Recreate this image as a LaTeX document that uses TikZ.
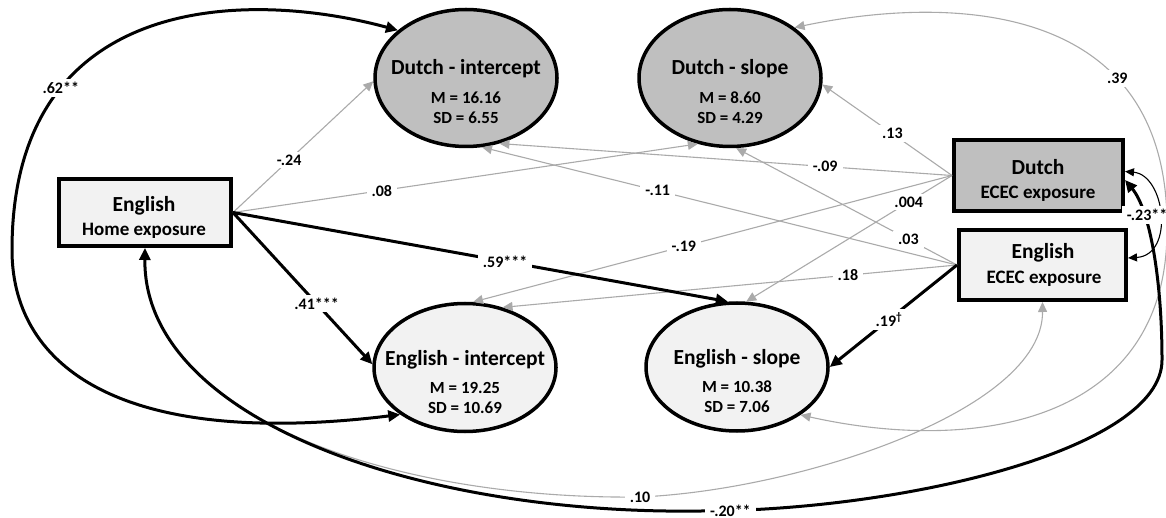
\documentclass[tikz,border=0pt]{standalone}
\usepackage{fontspec}
\setmainfont{Carlito}
\usetikzlibrary{arrows.meta,shapes.geometric}
\definecolor{dutchfill}{RGB}{191,191,191}
\definecolor{engfill}{RGB}{242,242,242}
\definecolor{pathgray}{RGB}{170,170,170}

\begin{document}
\begin{tikzpicture}[x=1pt,y=-1pt,
  latent/.style={ellipse, draw=black, line width=3.5pt, inner sep=0pt,
    minimum width=182pt},
  observed/.style={rectangle, draw=black, line width=4pt, inner sep=0pt},
  ltitle/.style={anchor=base, inner sep=0pt, font=\fontsize{21.5}{24}\selectfont\bfseries},
  lstat/.style={anchor=base, inner sep=0pt, font=\fontsize{17}{20}\selectfont\bfseries},
  bsub/.style={anchor=base, inner sep=0pt, font=\fontsize{19}{22}\selectfont\bfseries},
  elabel/.style={fill=white, inner xsep=5pt, inner ysep=3pt,
    font=\fontsize{16}{18}\selectfont\bfseries},
  sigpath/.style={draw=black, line width=3pt, -{Triangle[length=12pt,width=11pt]}},
  sigcov/.style={draw=black, line width=3pt,
    {Triangle[length=12pt,width=11pt]}-{Triangle[length=12pt,width=11pt]}},
  thincov/.style={draw=black, line width=1.1pt,
    {Triangle[length=9pt,width=8pt]}-{Triangle[length=9pt,width=8pt]}},
  nspath/.style={draw=pathgray, line width=1.1pt,
    -{Triangle[length=10pt,width=9pt]}},
  nscov/.style={draw=pathgray, line width=1.1pt,
    {Triangle[length=10pt,width=9pt]}-{Triangle[length=10pt,width=9pt]}},
]
\useasboundingbox (0,0) rectangle (1166,518);

% latent growth factors
\node[latent, fill=dutchfill, minimum height=137pt] (dint) at (466,78) {};
\node[latent, fill=dutchfill, minimum height=137pt] (dslp) at (730,78) {};
\node[latent, fill=engfill, minimum height=128pt] (eint) at (465,367.5) {};
\node[latent, fill=engfill, minimum height=128pt] (eslp) at (737,367) {};

\node[ltitle] (dint-t) at (466,75) {Dutch - intercept};
\node[lstat]  (dint-m) at (466,104) {M = 16.16};
\node[lstat]  (dint-s) at (466,124) {SD = 6.55};

\node[ltitle] (dslp-t) at (730,75) {Dutch - slope};
\node[lstat]  (dslp-m) at (730,104) {M = 8.60};
\node[lstat]  (dslp-s) at (730,124) {SD = 4.29};

\node[ltitle] (eint-t) at (465,365) {English - intercept};
\node[lstat]  (eint-m) at (465,393) {M = 19.25};
\node[lstat]  (eint-s) at (465,413) {SD = 10.69};

\node[ltitle] (eslp-t) at (737,364) {English - slope};
\node[lstat]  (eslp-m) at (737,392.5) {M = 10.38};
\node[lstat]  (eslp-s) at (737,412.5) {SD = 7.06};

% observed exposure measures
\node[observed, fill=engfill, minimum width=172pt, minimum height=67pt] (ehome) at (145,212.5) {};
\node[ltitle] (ehome-a) at (144,212) {English};
\node[bsub]   (ehome-b) at (144,236) {Home exposure};

\node[observed, fill=dutchfill, minimum width=169pt, minimum height=71pt] (decec) at (1038.5,175.5) {};
\node[ltitle] (decec-a) at (1038,175) {Dutch};
\node[bsub]   (decec-b) at (1038,199) {ECEC exposure};

\node[observed, fill=engfill, minimum width=167pt, minimum height=70pt] (eecec) at (1042.5,265) {};
\node[ltitle] (eecec-a) at (1043,259) {English};
\node[bsub]   (eecec-b) at (1044,284) {ECEC exposure};

% non-significant paths
\draw[nspath] (ehome.east) -- (dint.182) node[elabel,pos=0.4] {-.24};
\draw[nspath] (ehome.east) -- (dslp.244) node[elabel,pos=0.32] {.08};
\draw[nspath] (decec.west) -- (dint.297) node[elabel,pos=0.28] {-.09};
\draw[nspath] (eecec.west) -- (dint.283) node[elabel,pos=0.63] {-.11};
\draw[nspath] (decec.west) -- (dslp.356) node[elabel,pos=0.46] {.13};
\draw[nspath] (eecec.west) -- (dslp.275) node[elabel,pos=0.22] {.03};
\draw[nspath] (decec.west) -- (eint.83) node[elabel,pos=0.56] {-.19};
\draw[nspath] (decec.west) -- (eslp.82) node[elabel,pos=0.21] {.004};
\draw[nspath] (eecec.west) -- (eint.58) node[elabel,pos=0.24] {.18};

% non-significant covariances
\draw[nscov] (dslp.38) .. controls (950,-5) and (1170,0) .. (1167,230)
  node[elabel,pos=0.7] {.39}
  .. controls (1167,420) and (980,455) .. (eslp.323);
\draw[nscov] (ehome.south) .. controls (143,415) and (390,500) .. (640,497)
  node[elabel] {.10}
  .. controls (800,490) and (1043,410) .. (eecec.south);

% significant paths
\draw[sigpath] (ehome.east) -- (eslp.98) node[elabel,pos=0.55] {.59***};
\draw[sigpath] (ehome.east) -- (eint.178) node[elabel,pos=0.6] {.41***};
\draw[sigpath] (eecec.west) -- (eslp.0) node[elabel,pos=0.535] {.19\textsuperscript{\textdagger}};

% significant covariances
\draw[sigcov] (dint.145) .. controls (250,-10) and (12,-10) .. (12,250)
  node[elabel,pos=0.72] {.62**}
  .. controls (12,360) and (110,450) .. (eint.216);
\draw[sigcov] (ehome.south) .. controls (143,420) and (420,515) .. (700,511)
  .. controls (900,511) and (1162,450) .. (1162,360)
  node[elabel,pos=0.05] {-.20**}
  .. controls (1162,280) and (1150,210) .. ([yshift=-4.5pt]decec.east);
\draw[thincov] ([yshift=4pt]decec.east) .. controls (1165,175) and (1175,255) .. ([yshift=7pt]eecec.east)
  node[elabel,pos=0.5,xshift=-12pt] {-.23**};

\end{tikzpicture}
\end{document}
